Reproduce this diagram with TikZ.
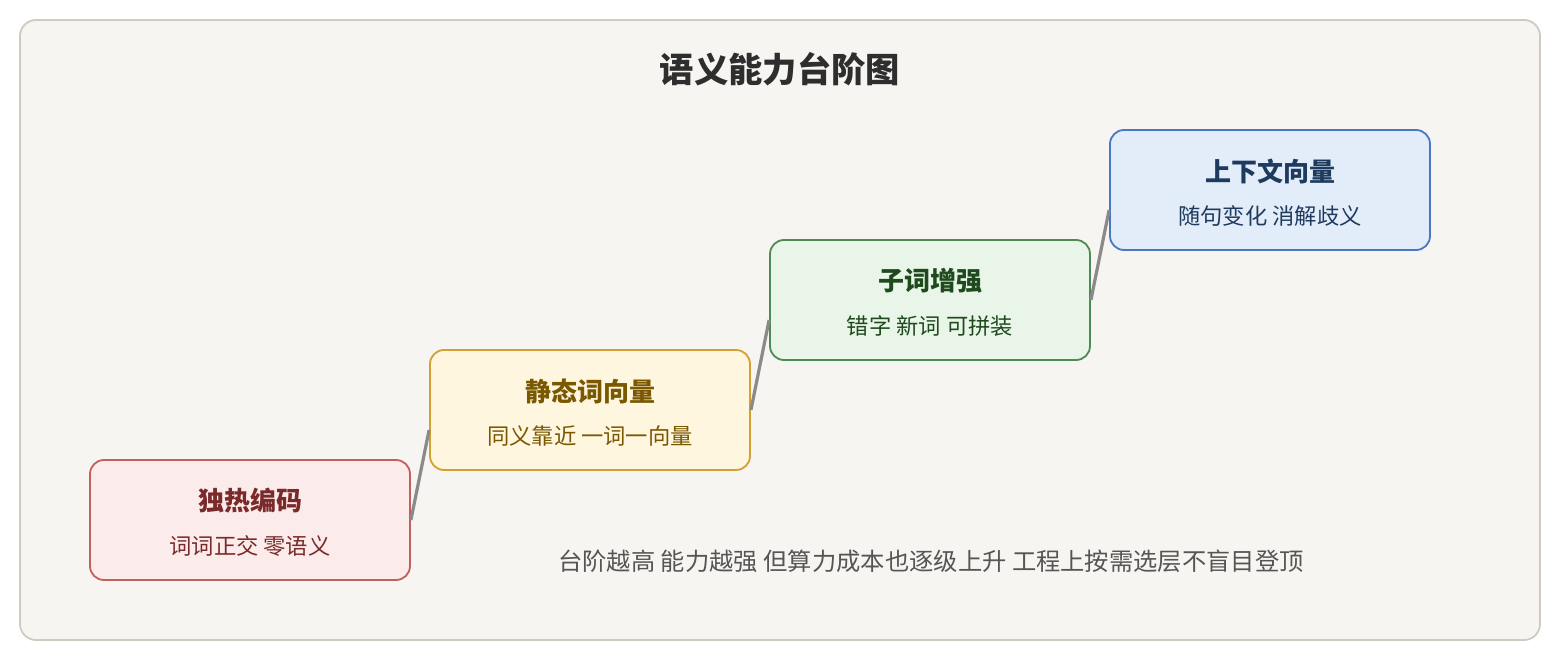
\documentclass[tikz,border=0pt]{standalone}
\usepackage{fontspec}
\setmainfont{Noto Sans CJK SC}
\usetikzlibrary{positioning}
\definecolor{bgfill}{HTML}{F7F5F1}
\definecolor{bgline}{HTML}{CFCBC2}
\definecolor{ttl}{HTML}{2E2E2E}
\definecolor{note}{HTML}{555555}
\definecolor{conn}{HTML}{8A8A8A}
\definecolor{rfill}{HTML}{FCEBEB}\definecolor{rline}{HTML}{C0605F}\definecolor{rtext}{HTML}{7A2A2A}
\definecolor{yfill}{HTML}{FFF6E0}\definecolor{yline}{HTML}{D4A033}\definecolor{ytext}{HTML}{7A5800}
\definecolor{gfill}{HTML}{E8F5E8}\definecolor{gline}{HTML}{4E8A52}\definecolor{gtext}{HTML}{1E4A1E}
\definecolor{bfill}{HTML}{E3EDF9}\definecolor{bline}{HTML}{4A78C0}\definecolor{btext}{HTML}{1E3A5F}
\tikzset{
  x=1pt,y=-1pt,
  stepbox/.style={draw,line width=1.8pt,rounded corners=14pt,minimum width=320pt,minimum height=120pt,inner sep=0pt},
  boxtitle/.style={font=\fontsize{26}{30}\selectfont\bfseries},
  boxsub/.style={font=\fontsize{22.3}{26}\selectfont},
  link/.style={draw=conn,line width=3.2pt}
}
\begin{document}
\begin{tikzpicture}
\useasboundingbox (0,0) rectangle (1560,660);
\draw[fill=bgfill,draw=bgline,line width=1.8pt,rounded corners=16pt] (20,20) rectangle (1540,640);
\node[text=ttl,font=\fontsize{34.3}{38}\selectfont\bfseries] (title) at (780,69) {语义能力台阶图};

\node[stepbox,fill=rfill,draw=rline] (s1) at (250,520) {};
\node[stepbox,fill=yfill,draw=yline] (s2) at (590,410) {};
\node[stepbox,fill=gfill,draw=gline] (s3) at (930,300) {};
\node[stepbox,fill=bfill,draw=bline] (s4) at (1270,190) {};

\node[boxtitle,text=rtext] (t1) at (250,501) {独热编码};
\node[boxsub,text=rtext] (u1) at (250,546) {词词正交 零语义};
\node[boxtitle,text=ytext] (t2) at (590,391) {静态词向量};
\node[boxsub,text=ytext] (u2) at (590,436) {同义靠近 一词一向量};
\node[boxtitle,text=gtext] (t3) at (930,281) {子词增强};
\node[boxsub,text=gtext] (u3) at (930,326) {错字 新词 可拼装};
\node[boxtitle,text=btext] (t4) at (1270,171) {上下文向量};
\node[boxsub,text=btext] (u4) at (1270,216) {随句变化 消解歧义};

\draw[link] (s1.east) -- ([yshift=-20pt]s2.west);
\draw[link] (s2.east) -- ([yshift=-20pt]s3.west);
\draw[link] (s3.east) -- ([yshift=-20pt]s4.west);

\node[text=note,font=\fontsize{24.3}{28}\selectfont] (n) at (931,561) {台阶越高 能力越强 但算力成本也逐级上升 工程上按需选层不盲目登顶};
\end{tikzpicture}
\end{document}
